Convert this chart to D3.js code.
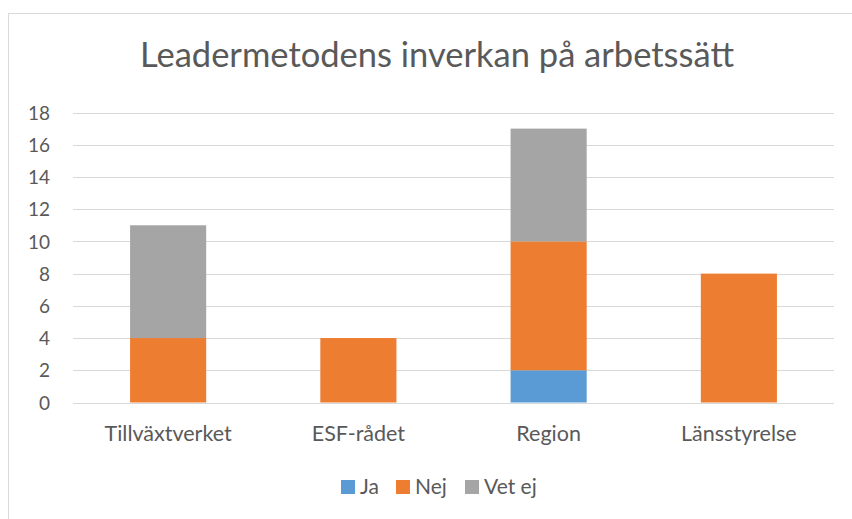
<!DOCTYPE html>
<html><head><meta charset="utf-8">
<script src="https://cdn.jsdelivr.net/npm/d3@7"></script>
<style>body{margin:0;background:#fff;}svg{display:block;font-family:Lato,"Open Sans",sans-serif;}</style>
</head><body><svg id="c" width="852" height="519"></svg>
<script>
const title = "Leadermetodens inverkan på arbetssätt";
const categories = ["Tillväxtverket", "ESF-rådet", "Region", "Länsstyrelse"];
const seriesNames = ["Ja", "Nej", "Vet ej"];
const ja = [0, 0, 2, 0];
const nej = [4, 4, 8, 8];
const vetEj = [7, 0, 7, 0];
const yTicks = [0, 2, 4, 6, 8, 10, 12, 14, 16, 18];
const colors = ["#5b9bd5", "#ed7d31", "#a5a5a5"];

const svg = d3.select("#c");
svg.append("rect").attr("x", 8.5).attr("y", 13.5).attr("width", 860).attr("height", 520)
  .attr("fill", "#fff").attr("stroke", "#d9d9d9").attr("stroke-width", 1);

const x = d3.scaleBand().domain(categories).range([73, 834]).paddingInner(0.6).paddingOuter(0.3);
const y = d3.scaleLinear().domain([0, 18]).range([402.5, 112.5]);

svg.append("text").attr("x", 437).attr("y", 67).attr("text-anchor", "middle")
  .attr("fill", "#595959").attr("font-size", 34.5).text(title);

const grid = svg.append("g");
grid.selectAll("line").data(yTicks).join("line")
  .attr("x1", 73).attr("x2", 834)
  .attr("y1", d => Math.round(y(d)) + 0.5).attr("y2", d => Math.round(y(d)) + 0.5)
  .attr("stroke", "#d9d9d9").attr("stroke-width", 1);

const yAxis = d3.axisLeft(y).tickValues(yTicks).tickSize(0).tickPadding(0);
const ga = svg.append("g").attr("transform", "translate(50,0)").call(yAxis);
ga.select(".domain").remove();
ga.selectAll("text").attr("fill", "#595959").attr("font-size", 19).attr("font-family", "Lato,sans-serif").attr("dy", "0.35em");

const rows = categories.map((c, i) => ({cat: c, Ja: ja[i], Nej: nej[i], "Vet ej": vetEj[i]}));
const stacked = d3.stack().keys(seriesNames)(rows);
svg.append("g").selectAll("g").data(stacked).join("g")
  .attr("fill", (d, i) => colors[i])
  .selectAll("rect").data(d => d.filter(p => p[1] - p[0] > 0)).join("rect")
  .attr("x", d => x(d.data.cat)).attr("width", x.bandwidth())
  .attr("y", d => y(d[1])).attr("height", d => y(d[0]) - y(d[1]));

const xAxis = d3.axisBottom(x).tickSize(0).tickPadding(0);
const gx = svg.append("g").attr("transform", "translate(0,441)").call(xAxis);
gx.select(".domain").remove();
gx.selectAll("text").attr("fill", "#595959").attr("font-size", 21.5).attr("font-family", "Lato,sans-serif").attr("dy", 0);

const legendX = [341, 396, 465];
const lg = svg.append("g").selectAll("g").data(seriesNames).join("g")
  .attr("transform", (d, i) => `translate(${legendX[i]},480)`);
lg.append("rect").attr("width", 14).attr("height", 14).attr("fill", (d, i) => colors[i]);
lg.append("text").attr("x", 19).attr("y", 14).attr("fill", "#595959").attr("font-size", 21).text(d => d);
</script></body></html>
